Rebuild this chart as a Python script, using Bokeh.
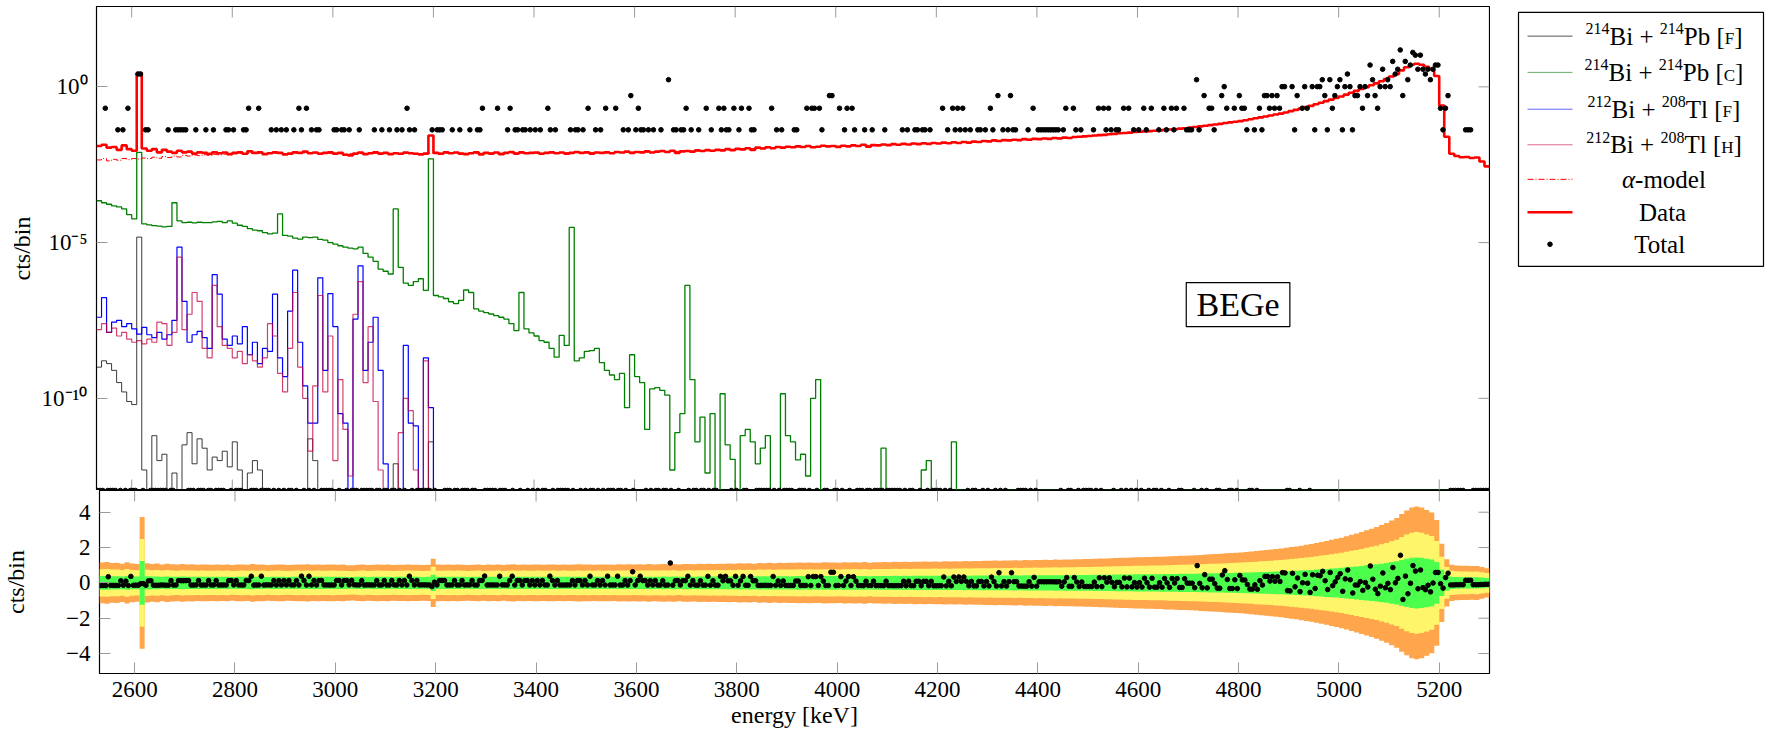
import math
import numpy as np
from bokeh.plotting import figure
from bokeh.layouts import column, row
from bokeh.models import Range1d, FixedTicker
from bokeh.core.properties import value
from bokeh.embed import file_html
from bokeh.resources import INLINE

# ------------------------------------------------------------------ data
E_MIN, E_MAX = 2530.0, 5300.0
MODEL_BIN_KEV = 10.0      # model histograms
COUNT_BIN_KEV = 5.0       # observed counts ("Total" dots)

# "Data" histogram (red), cts/bin, 10 keV bins from 2530 keV
data_model = [
    0.0126, 0.0138, 0.0112, 0.0117, 0.0095, 0.0132, 0.0100, 0.0089, 2.75, 0.0105,
    0.0089, 0.0100, 0.0079, 0.0095, 0.0083, 0.0076, 0.0089, 0.0079, 0.0083, 0.0072,
    0.0079, 0.0076, 0.0071, 0.0079, 0.0074, 0.0078, 0.0069, 0.0076, 0.0079, 0.0071,
    0.0085, 0.0076, 0.0079, 0.0069, 0.0074, 0.0079, 0.0076, 0.0068, 0.0072, 0.0079,
    0.0076, 0.0083, 0.0074, 0.0078, 0.0071, 0.0076, 0.0079, 0.0072, 0.0076, 0.0066,
    0.0063, 0.0072, 0.0078, 0.0069, 0.0074, 0.0079, 0.0072, 0.0076, 0.0069, 0.0074,
    0.0071, 0.0078, 0.0074, 0.0071, 0.0068, 0.0072, 0.0275, 0.0076, 0.0071, 0.0079,
    0.0074, 0.0078, 0.0072, 0.0069, 0.0074, 0.0079, 0.0068, 0.0076, 0.0072, 0.0078,
    0.0069, 0.0076, 0.0081, 0.0072, 0.0079, 0.0074, 0.0076, 0.0078, 0.0071, 0.0076,
    0.0079, 0.0074, 0.0078, 0.0072, 0.0076, 0.0081, 0.0076, 0.0079, 0.0072, 0.0078,
    0.0076, 0.0079, 0.0074, 0.0081, 0.0078, 0.0083, 0.0076, 0.0081, 0.0079, 0.0085,
    0.0078, 0.0083, 0.0087, 0.0081, 0.0089, 0.0076, 0.0085, 0.0087, 0.0083, 0.0091,
    0.0087, 0.0093, 0.0089, 0.0095, 0.0091, 0.0100, 0.0093, 0.0102, 0.0098, 0.0107,
    0.0095, 0.0112, 0.0105, 0.0115, 0.0107, 0.0117, 0.0112, 0.0120, 0.0115, 0.0123,
    0.0117, 0.0126, 0.0115, 0.0120, 0.0129, 0.0123, 0.0126, 0.0117, 0.0129, 0.0123,
    0.0132, 0.0126, 0.0138, 0.0120, 0.0135, 0.0132, 0.0141, 0.0135, 0.0145, 0.0138,
    0.0148, 0.0141, 0.0151, 0.0145, 0.0155, 0.0148, 0.0158, 0.0151, 0.0162, 0.0155,
    0.0166, 0.0158, 0.0170, 0.0162, 0.0174, 0.0170, 0.0182, 0.0178, 0.0191, 0.0182,
    0.0195, 0.0191, 0.0200, 0.0195, 0.0209, 0.0200, 0.0214, 0.0209, 0.0219, 0.0214,
    0.0229, 0.0219, 0.0234, 0.0229, 0.0245, 0.0251, 0.0257, 0.0263, 0.0275, 0.0282,
    0.0288, 0.0302, 0.0309, 0.0324, 0.0331, 0.0339, 0.0355, 0.0363, 0.0372, 0.0380,
    0.0389, 0.0398, 0.0417, 0.0427, 0.0437, 0.0457, 0.0468, 0.0490, 0.0513, 0.0537,
    0.0562, 0.0589, 0.0617, 0.0646, 0.0692, 0.0724, 0.0759, 0.0794, 0.0851, 0.0912,
    0.0977, 0.105, 0.112, 0.120, 0.129, 0.138, 0.151, 0.166, 0.182, 0.200,
    0.224, 0.245, 0.275, 0.309, 0.347, 0.389, 0.437, 0.490, 0.562, 0.646,
    0.741, 0.851, 0.977, 1.12, 1.29, 1.51, 1.78, 2.14, 2.57, 3.39,
    4.27, 5.13, 5.50, 5.13, 4.37, 3.72, 2.24, 0.251, 0.0251, 0.0071,
    0.0060, 0.0055, 0.0056, 0.0052, 0.0054, 0.0040, 0.0028,
]

# alpha-model (red dash-dot), 10 keV bins from 2530 keV
alpha_model = [
    0.0045, 0.0050, 0.0042, 0.0047, 0.0044, 0.0050, 0.0046, 0.0050, 0.0048, 0.0052,
    0.0050, 0.0055, 0.0051, 0.0058, 0.0054, 0.0060, 0.0056, 0.0063, 0.0060, 0.0065,
    0.0062, 0.0066, 0.0063, 0.0068, 0.0066, 0.0069, 0.0066, 0.0071, 0.0072, 0.0071,
    0.0073, 0.0074, 0.0072, 0.0073, 0.0074, 0.0073, 0.0074, 0.0072, 0.0073, 0.0074,
    0.0074, 0.0075, 0.0074, 0.0073, 0.0074, 0.0075, 0.0074, 0.0073, 0.0072, 0.0071,
    0.0071, 0.0072, 0.0073, 0.0073, 0.0074, 0.0074, 0.0073, 0.0073, 0.0072, 0.0073,
    0.0073, 0.0074, 0.0074, 0.0073, 0.0072, 0.0073, 0.0074, 0.0074, 0.0074, 0.0075,
    0.0075, 0.0074, 0.0074, 0.0074, 0.0075, 0.0074, 0.0074, 0.0074, 0.0075, 0.0075,
    0.0074, 0.0075, 0.0075, 0.0075, 0.0075, 0.0075, 0.0075, 0.0075, 0.0075, 0.0076,
    0.0076, 0.0076, 0.0076, 0.0076, 0.0076, 0.0077, 0.0077, 0.0077, 0.0077, 0.0077,
    0.0077, 0.0078, 0.0078, 0.0079, 0.0079, 0.0080, 0.0080, 0.0080, 0.0081, 0.0081,
    0.0082, 0.0082, 0.0083, 0.0084, 0.0084, 0.0085, 0.0085, 0.0086, 0.0087, 0.0088,
    0.0089, 0.0090, 0.0091, 0.0092, 0.0093, 0.0095, 0.0096, 0.0098, 0.0100, 0.0102,
    0.0104, 0.0106, 0.0108, 0.0110, 0.0111, 0.0113, 0.0114, 0.0116, 0.0117, 0.0118,
    0.0119, 0.0120, 0.0121, 0.0122, 0.0123, 0.0124, 0.0124, 0.0125, 0.0126, 0.0127,
    0.0128, 0.0129, 0.0131, 0.0132, 0.0133, 0.0134, 0.0136, 0.0137, 0.0139, 0.0141,
    0.0142, 0.0144, 0.0146, 0.0147, 0.0149, 0.0151, 0.0153, 0.0155, 0.0157, 0.0159,
    0.0161, 0.0163, 0.0165, 0.0168, 0.0170, 0.0173, 0.0176, 0.0179, 0.0182, 0.0185,
    0.0188, 0.0191, 0.0195, 0.0198, 0.0201, 0.0205, 0.0208, 0.0211, 0.0215, 0.0219,
    0.0223, 0.0227, 0.0231, 0.0236, 0.0241, 0.0247, 0.0253, 0.0260, 0.0267, 0.0276,
    0.0288, 0.0302, 0.0309, 0.0324, 0.0331, 0.0339, 0.0355, 0.0363, 0.0372, 0.0380,
    0.0389, 0.0398, 0.0417, 0.0427, 0.0437, 0.0457, 0.0468, 0.0490, 0.0513, 0.0537,
    0.0562, 0.0589, 0.0617, 0.0646, 0.0692, 0.0724, 0.0759, 0.0794, 0.0851, 0.0912,
    0.0977, 0.105, 0.112, 0.120, 0.129, 0.138, 0.151, 0.166, 0.182, 0.200,
    0.224, 0.245, 0.275, 0.309, 0.347, 0.389, 0.437, 0.490, 0.562, 0.646,
    0.741, 0.851, 0.977, 1.12, 1.29, 1.51, 1.78, 2.14, 2.57, 3.39,
    4.27, 5.13, 5.50, 5.13, 4.37, 3.72, 2.24, 0.251, 0.0251, 0.0071,
    0.0060, 0.0055, 0.0056, 0.0052, 0.0054, 0.0040, 0.0028,
]

# 214Bi + 214Pb [C] (green), 10 keV bins from 2530 keV; zero beyond 4240 keV
bi214_pb214_c = [
    2.2e-4, 1.9e-4, 1.7e-4, 1.5e-4, 1.4e-4, 1.2e-4, 7.9e-5, 5.8e-5, 7.9e-3, 4.0e-5,
    3.7e-5, 3.5e-5, 3.4e-5, 3.2e-5, 3.3e-5, 1.9e-4, 5.0e-5, 4.4e-5, 4.5e-5, 4.3e-5,
    4.5e-5, 4.4e-5, 4.4e-5, 4.6e-5, 4.8e-5, 4.4e-5, 5.0e-5, 4.2e-5, 3.6e-5, 3.3e-5,
    2.8e-5, 2.5e-5, 2.4e-5, 2.1e-5, 1.9e-5, 2.0e-5, 8.3e-5, 1.7e-5, 1.6e-5, 1.4e-5,
    1.3e-5, 1.5e-5, 1.45e-5, 1.5e-5, 1.26e-5, 1.2e-5, 1.0e-5, 8.9e-6, 7.9e-6, 7.1e-6,
    6.6e-6, 6.3e-6, 7.1e-6, 4.5e-6, 3.4e-6, 2.5e-6, 1.4e-6, 1.2e-6, 9.8e-7, 1.2e-4,
    1.6e-6, 5.0e-7, 4.2e-7, 5.6e-7, 6.9e-7, 2.9e-7, 4.9e-3, 2.0e-7, 1.8e-7, 1.6e-7,
    1.26e-7, 1.1e-7, 1.4e-7, 3.0e-7, 2.5e-7, 7.4e-8, 6.3e-8, 5.6e-8, 5.1e-8, 4.5e-8,
    4.0e-8, 3.5e-8, 2.5e-8, 1.5e-8, 2.5e-7, 1.7e-8, 1.26e-8, 1.0e-8, 7.1e-9, 6.3e-9,
    4.0e-9, 2.1e-9, 1.05e-8, 5.0e-9, 3.1e-5, 1.6e-9, 2.0e-9, 3.2e-9, 3.4e-9, 4.0e-9,
    1.4e-9, 7.9e-10, 5.6e-10, 4.0e-10, 6.3e-10, 5.0e-11, 2.5e-9, 5.0e-10, 3.2e-10, 1.0e-11,
    2.0e-10, 2.2e-10, 1.8e-10, 1.26e-10, 5.0e-13, 7.9e-12, 3.2e-11, 4.2e-7, 4.0e-10, 4.0e-12,
    2.5e-11, 4.0e-13, 3.2e-11, 0, 1.4e-10, 3.2e-12, 1.1e-12, 0, 6.3e-12, 1.0e-11,
    4.0e-12, 7.9e-13, 2.5e-12, 6.3e-12, 0, 0, 1.4e-10, 6.3e-12, 4.0e-12, 1.05e-12,
    1.6e-12, 3.2e-13, 1.0e-10, 4.0e-10, 0, 0, 0, 0, 0, 0,
    0, 0, 0, 0, 0, 0, 2.5e-12, 0, 0, 0,
    0, 0, 0, 0, 5.0e-13, 1.0e-12, 0, 0, 0, 0,
    4.0e-12,
]

# 212Bi + 208Tl [F] (blue), 10 keV bins from 2530 keV; zero beyond 3200 keV
bi212_tl208_f = [
    4.0e-8, 1.7e-7, 1.3e-8, 2.8e-8, 3.2e-8, 2.0e-8, 2.5e-8, 1.7e-8, 1.15e-8, 1.9e-8,
    1.1e-8, 8.9e-9, 1.3e-8, 7.9e-9, 1.1e-8, 3.2e-8, 7.1e-6, 1.3e-7, 6.3e-9, 1.1e-8,
    1.4e-8, 8.9e-9, 4.0e-9, 9.3e-7, 2.2e-7, 7.9e-9, 5.0e-9, 1.0e-8, 5.6e-9, 2.0e-8,
    2.5e-9, 6.3e-9, 1.3e-9, 4.0e-9, 3.2e-9, 2.2e-7, 2.0e-9, 5.0e-10, 6.3e-8, 1.3e-6,
    6.3e-9, 2.5e-10, 1.6e-11, 1.6e-11, 7.4e-7, 7.9e-10, 2.3e-7, 2.0e-8, 3.2e-11, 1.6e-11,
    0, 3.5e-8, 1.8e-6, 7.9e-10, 6.3e-9, 4.0e-8, 7.9e-10, 7.9e-13, 0, 0,
    0, 5.0e-9, 1.6e-11, 1.3e-11, 0, 2.0e-9, 5.0e-11,
]

# 212Bi + 208Tl [H] (crimson), 10 keV bins from 2530 keV; zero beyond 3200 keV
bi212_tl208_h = [
    1.6e-8, 2.5e-8, 1.3e-8, 1.8e-8, 1.0e-8, 1.3e-8, 7.9e-9, 6.3e-9, 7.1e-9, 5.6e-9,
    7.9e-9, 6.3e-9, 2.8e-8, 2.5e-8, 5.0e-9, 1.3e-8, 3.4e-6, 1.6e-8, 5.0e-8, 2.5e-7,
    1.3e-7, 4.0e-9, 2.0e-9, 4.2e-7, 2.0e-8, 5.0e-9, 4.0e-9, 2.0e-9, 3.2e-9, 1.3e-9,
    2.5e-9, 1.6e-9, 1.0e-9, 2.0e-9, 2.5e-8, 1.0e-8, 6.3e-10, 1.6e-10, 4.0e-9, 2.5e-7,
    1.0e-9, 1.0e-10, 2.0e-12, 2.5e-10, 2.0e-7, 1.6e-10, 1.0e-8, 1.0e-12, 4.0e-10, 1.0e-11,
    3.2e-13, 5.0e-8, 5.6e-7, 3.2e-10, 2.0e-8, 7.9e-11, 5.0e-13, 0, 0, 0,
    7.9e-12, 1.0e-10, 4.0e-11, 5.0e-13, 0, 1.6e-9, 0,
]

# 214Bi + 214Pb [F] (black), 10 keV bins from 2530 keV; zero beyond 3200 keV
bi214_pb214_f = [
    1.0e-9, 1.6e-9, 1.3e-9, 7.9e-10, 3.2e-10, 1.6e-10, 7.9e-11, 6.3e-11, 1.5e-5, 5.0e-13,
    0, 6.3e-12, 1.0e-12, 1.6e-12, 0, 4.0e-13, 0, 3.2e-12, 7.9e-12, 7.9e-13,
    5.0e-12, 2.5e-12, 5.0e-13, 1.3e-12, 1.0e-12, 2.0e-12, 6.3e-13, 4.0e-12, 5.0e-13, 0,
    4.0e-13, 1.0e-12, 5.0e-13, 0, 0, 0, 0, 0, 0, 0,
    0, 0, 5.0e-12, 1.0e-12, 0, 0, 0, 0, 0, 0,
    0, 0, 0, 0, 0, 0, 0, 0, 0, 7.9e-13,
    0, 0, 0, 0, 0, 0, 4.0e-12,
]

# Total: observed counts per 5 keV bin from 2530 keV (one row = 100 keV)
total_counts = [
    0, 0, 0, 2, 0, 0, 0, 0, 1, 0, 1, 0, 2, 0, 0, 0, 6, 6, 0, 1,
    1, 0, 0, 0, 0, 0, 0, 0, 1, 0, 0, 1, 1, 1, 1, 1, 0, 0, 0, 1,
    0, 0, 0, 1, 0, 0, 1, 0, 0, 0, 0, 1, 1, 0, 1, 0, 0, 0, 1, 1,
    2, 0, 0, 0, 2, 0, 0, 0, 0, 1, 0, 1, 0, 1, 0, 1, 0, 0, 1, 0,
    2, 1, 0, 2, 0, 1, 0, 1, 1, 0, 0, 0, 0, 0, 1, 1, 0, 1, 1, 0,
    1, 0, 0, 0, 1, 0, 0, 0, 0, 0, 1, 0, 0, 1, 0, 0, 1, 0, 0, 1,
    0, 1, 0, 2, 1, 0, 1, 0, 0, 0, 0, 0, 0, 1, 0, 1, 1, 1, 0, 0,
    0, 1, 0, 0, 1, 0, 0, 0, 1, 0, 0, 1, 1, 2, 0, 0, 0, 0, 0, 2,
    0, 0, 0, 1, 2, 0, 1, 1, 0, 1, 1, 0, 1, 0, 1, 0, 1, 0, 0, 2,
    1, 0, 1, 0, 0, 0, 0, 0, 1, 0, 1, 1, 0, 1, 0, 2, 0, 0, 1, 0,
    1, 0, 2, 0, 0, 0, 2, 0, 0, 1, 0, 1, 3, 0, 1, 2, 1, 1, 0, 1,
    0, 1, 0, 0, 1, 0, 0, 5, 0, 1, 1, 0, 1, 1, 2, 0, 1, 0, 0, 1,
    0, 0, 2, 0, 1, 0, 0, 2, 1, 2, 1, 1, 0, 2, 0, 1, 2, 0, 0, 2,
    1, 1, 0, 0, 0, 0, 0, 0, 2, 0, 1, 0, 1, 0, 0, 0, 0, 1, 1, 0,
    0, 0, 2, 0, 2, 2, 0, 2, 1, 0, 0, 3, 3, 0, 0, 2, 0, 1, 2, 0,
    2, 1, 0, 0, 0, 1, 0, 0, 1, 0, 0, 0, 0, 1, 0, 0, 0, 0, 0, 0,
    1, 0, 1, 0, 0, 1, 1, 0, 1, 1, 0, 1, 0, 0, 0, 0, 2, 0, 1, 0,
    2, 1, 2, 1, 2, 1, 0, 1, 0, 0, 1, 1, 0, 1, 0, 2, 1, 0, 3, 0,
    1, 0, 1, 3, 1, 1, 0, 0, 0, 0, 1, 0, 2, 0, 1, 1, 1, 1, 1, 1,
    1, 1, 1, 0, 1, 2, 0, 0, 2, 1, 0, 1, 0, 0, 0, 0, 1, 0, 2, 0,
    2, 1, 2, 1, 0, 1, 1, 0, 2, 0, 2, 0, 1, 0, 1, 0, 2, 1, 0, 2,
    0, 0, 1, 0, 2, 1, 0, 2, 1, 2, 0, 0, 2, 1, 1, 1, 0, 5, 1, 0,
    3, 0, 2, 2, 1, 0, 0, 3, 4, 2, 0, 0, 2, 0, 3, 2, 2, 1, 0, 0,
    1, 0, 2, 1, 3, 3, 2, 3, 2, 3, 2, 4, 4, 0, 0, 4, 1, 3, 0, 2,
    4, 2, 0, 4, 1, 4, 4, 5, 3, 1, 5, 2, 3, 4, 5, 1, 4, 6, 4, 1,
    3, 3, 4, 2, 4, 3, 8, 5, 3, 2, 4, 7, 4, 5, 4, 9, 6, 7, 13, 3,
    9, 5, 8, 12, 11, 7, 11, 7, 6, 7, 5, 7, 8, 8, 2, 1, 2, 3, 0, 0,
    0, 0, 0, 0, 1, 1, 1, 0, 0, 0, 0, 0, 0, 0,
]

x_ticks = [2600, 2800, 3000, 3200, 3400, 3600, 3800, 4000, 4200, 4400, 4600, 4800, 5000, 5200]
y_top_ticks = [1e-10, 1e-5, 1.0]
y_top_tick_labels = ["10⁻¹⁰", "10⁻⁵", "10⁰"]
y_bot_ticks = [-4, -2, 0, 2, 4]
y_bot_tick_labels = ["−4", "−2", "0", "2", "4"]

# legend entries: (superscript A, element A, superscript B, element B, small-caps tag)
legend_isotopes = [
    ("214", "Bi", "214", "Pb", "F"),
    ("214", "Bi", "214", "Pb", "C"),
    ("212", "Bi", "208", "Tl", "F"),
    ("212", "Bi", "208", "Tl", "H"),
]
legend_plain = ["model", "Data", "Total"]

# ------------------------------------------------------------------ display settings
FONT = "Liberation Serif"
Y_MIN, Y_MAX = 10 ** -12.96, 10 ** 2.58
R_MIN, R_MAX = -5.13, 5.23
COUNT_LEVEL = 0.0417      # plotted height of a single count in the upper panel
RES_SCALE = 0.25          # residual scale of the lower panel
RED, GREEN, BLUE, CRIMSON, BLACK = "#ff0000", "#008000", "#0000ff", "#c4003c", "#1a1a1a"
ORANGE, YELLOW, LIME = "#ffa64d", "#fff56b", "#4dff4d"
TICK_GREY = "#9a9a9a"
TICK_PX = 11
FRAME_W, TOP_H, BOT_H = 1393, 484, 183

N_MODEL = int(round((E_MAX - E_MIN) / MODEL_BIN_KEV))
N_COUNT = int(round((E_MAX - E_MIN) / COUNT_BIN_KEV))
KEV_PER_PX = (E_MAX - E_MIN) / FRAME_W
DEC_PER_PX = (math.log10(Y_MAX) - math.log10(Y_MIN)) / TOP_H
RES_PER_PX = (R_MAX - R_MIN) / BOT_H

# Times-compatible advance widths (em) used to centre composed legend labels
ADV = {"0": .5, "1": .5, "2": .5, "3": .5, "4": .5, "5": .5, "6": .5, "7": .5, "8": .5,
       "9": .5, "B": .667, "i": .278, " ": .25, "+": .564, "P": .556, "b": .5,
       "T": .611, "l": .278, "[": .333, "]": .333, "F": .556, "C": .667, "H": .722,
       "-": .333, "m": .778, "o": .5, "d": .5, "e": .444, "α": .52}


def text_w(s, size):
    return sum(ADV.get(c, .5) for c in s) * size


def full(vals, n):
    return list(vals) + [0.0] * (n - len(vals))


def step_xy(vals, width):
    v = np.asarray(vals, dtype=float)
    edges = E_MIN + width * np.arange(len(v) + 1)
    y = np.append(v, v[-1])
    y = np.where(y > 0, y, Y_MIN)
    return edges, y


def style_axis(ax):
    ax.axis_line_color = None
    ax.major_tick_in = TICK_PX
    ax.major_tick_out = 0
    ax.major_tick_line_color = TICK_GREY
    ax.minor_tick_line_color = None
    ax.major_label_text_font = FONT
    ax.major_label_text_font_size = "23px"
    ax.major_label_text_color = "black"
    ax.axis_label_text_font = FONT
    ax.axis_label_text_font_size = "24px"
    ax.axis_label_text_font_style = "normal"
    ax.axis_label_text_color = "black"


# ------------------------------------------------------------------ upper panel
x_range = Range1d(E_MIN, E_MAX)
p_top = figure(width=1490, height=490, x_range=x_range, y_range=Range1d(Y_MIN, Y_MAX),
               y_axis_type="log", x_axis_location=None, output_backend="svg",
               toolbar_location=None, min_border_left=96, min_border_right=1,
               min_border_top=6, min_border_bottom=0)
p_top.grid.visible = False
p_top.outline_line_color = "black"
p_top.outline_line_width = 1.2

ly = p_top.yaxis[0]
style_axis(ly)
ly.ticker = FixedTicker(ticks=y_top_ticks)
ly.major_label_overrides = dict(zip(y_top_ticks, y_top_tick_labels))
ly.major_label_standoff = 9
ly.axis_label = "cts/bin"
ly.axis_label_standoff = 4

# inward ticks on the remaining three sides of the upper frame
t_dec = 10 ** (TICK_PX * DEC_PER_PX)
n_x = len(x_ticks)
p_top.segment(x0=x_ticks, y0=[Y_MAX] * n_x, x1=x_ticks, y1=[Y_MAX / t_dec] * n_x,
              line_color=TICK_GREY, line_width=1)
p_top.segment(x0=x_ticks, y0=[Y_MIN] * n_x, x1=x_ticks, y1=[Y_MIN * t_dec] * n_x,
              line_color=TICK_GREY, line_width=1)
p_top.segment(x0=[E_MAX] * 3, y0=y_top_ticks, x1=[E_MAX - TICK_PX * KEV_PER_PX] * 3,
              y1=y_top_ticks, line_color=TICK_GREY, line_width=1)

for vals, color, width, alpha in [
    (bi214_pb214_f, BLACK, 1.0, 0.85),
    (bi214_pb214_c, GREEN, 1.3, 1.0),
    (bi212_tl208_f, BLUE, 1.2, 1.0),
    (bi212_tl208_h, CRIMSON, 1.2, 0.75),
]:
    xs, ys = step_xy(full(vals, N_MODEL), MODEL_BIN_KEV)
    p_top.step(xs, ys, mode="after", line_color=color, line_width=width, line_alpha=alpha)

xs, ys = step_xy(alpha_model, MODEL_BIN_KEV)
p_top.step(xs, ys, mode="after", line_color=RED, line_width=1.0, line_dash="6 2 1 2")
xs, ys = step_xy(data_model, MODEL_BIN_KEV)
p_top.step(xs, ys, mode="after", line_color=RED, line_width=2.6)

counts = np.asarray(total_counts, dtype=float)
count_centres = E_MIN + COUNT_BIN_KEV * (np.arange(N_COUNT) + 0.5)
count_levels = np.where(counts > 0,
                        COUNT_LEVEL * np.power(np.maximum(counts, 1), math.log(10)), Y_MIN)
p_top.scatter(count_centres, count_levels, size=4.6, color="black", marker="circle")

# "BEGe" tag
p_top.quad(left=[4697], right=[4903], bottom=[2.0e-8], top=[5.2e-7],
           fill_color="white", line_color="black", line_width=1.2)
p_top.text(x=[4800], y=[1.0e-7], text=["BEGe"], text_align="center",
           text_baseline="middle", text_font=value(FONT), text_font_size="34px",
           text_color="black")

# ------------------------------------------------------------------ legend
LEG_H = 490
p_leg = figure(width=277, height=LEG_H, x_range=Range1d(0, 277), y_range=Range1d(0, LEG_H),
               x_axis_location=None, y_axis_location=None, output_backend="svg",
               toolbar_location=None, min_border=0, outline_line_color=None)
p_leg.grid.visible = False
p_leg.quad(left=[28], right=[273], top=[LEG_H - 6], bottom=[LEG_H - 263],
           fill_color="white", line_color="black", line_width=1.2)
row_y = [LEG_H - v for v in [30, 66.7, 104, 140, 175, 208.3, 240.7]]
sample_x = [37, 82]
LABEL_CX = 173.5
MAIN, SUP, SC = 25, 16, 17
SUP_RISE = 7.5        # superscript centre above the row centre
SC_DROP = 2.7         # small-caps centre below the row centre (shared baseline)

p_leg.line(sample_x, [row_y[0]] * 2, line_color=BLACK, line_width=1.0, line_alpha=0.75)
p_leg.line(sample_x, [row_y[1]] * 2, line_color=GREEN, line_width=1.0, line_alpha=0.6)
p_leg.line(sample_x, [row_y[2]] * 2, line_color=BLUE, line_width=1.0, line_alpha=0.6)
p_leg.line(sample_x, [row_y[3]] * 2, line_color=CRIMSON, line_width=1.0, line_alpha=0.6)
p_leg.line(sample_x, [row_y[4]] * 2, line_color=RED, line_width=1.0, line_dash="6 2 1 2")
p_leg.line(sample_x, [row_y[5]] * 2, line_color=RED, line_width=2.6)
p_leg.scatter([59.5], [row_y[6]], size=4.6, color="black", marker="circle")

pieces = {"x": [], "y": [], "text": [], "size": [], "style": []}


def add_piece(x, y, s, size, style="normal"):
    pieces["x"].append(x)
    pieces["y"].append(y)
    pieces["text"].append(s)
    pieces["size"].append(f"{size}px")
    pieces["style"].append(style)


for (supa, ela, supb, elb, tag), yc in zip(legend_isotopes, row_y[:4]):
    parts = [(supa, SUP, SUP_RISE), (ela + " + ", MAIN, 0), (supb, SUP, SUP_RISE),
             (elb + " [", MAIN, 0), (tag, SC, -SC_DROP), ("]", MAIN, 0)]
    total = sum(text_w(s, sz) for s, sz, _ in parts)
    x = LABEL_CX - total / 2
    for s, sz, dy in parts:
        add_piece(x, yc + dy, s, sz)
        x += text_w(s, sz)

# alpha-model: italic alpha followed by "-model"
parts = [("α", "italic"), ("-" + legend_plain[0], "normal")]
total = sum(text_w(s, MAIN) for s, _ in parts)
x = LABEL_CX - total / 2
for s, st in parts:
    add_piece(x, row_y[4], s, MAIN, st)
    x += text_w(s, MAIN)
for s, yc in zip(legend_plain[1:], row_y[5:]):
    add_piece(LABEL_CX - text_w(s, MAIN) / 2, yc, s, MAIN)

p_leg.text(x="x", y="y", text="text", text_font_size="size", text_font_style="style",
           source=pieces, text_align="left", text_baseline="middle",
           text_font=value(FONT), text_color="black")

# ------------------------------------------------------------------ lower panel (residuals)
p_bot = figure(width=1767, height=250, x_range=x_range, y_range=Range1d(R_MIN, R_MAX),
               output_backend="svg", toolbar_location=None,
               min_border_left=96, min_border_right=278, min_border_top=0, min_border_bottom=67)
p_bot.grid.visible = False
p_bot.outline_line_color = "black"
p_bot.outline_line_width = 1.2

n_y = len(y_bot_ticks)
p_bot.segment(x0=x_ticks, y0=[R_MAX] * n_x, x1=x_ticks, y1=[R_MAX - TICK_PX * RES_PER_PX] * n_x,
              line_color=TICK_GREY, line_width=1)
p_bot.segment(x0=[E_MAX] * n_y, y0=y_bot_ticks, x1=[E_MAX - TICK_PX * KEV_PER_PX] * n_y,
              y1=y_bot_ticks, line_color=TICK_GREY, line_width=1)

model = np.asarray(data_model, dtype=float)
mu = np.exp(np.log10(model / COUNT_LEVEL))          # expected counts per bin
sigma = 0.5 * np.sqrt(mu)
edges = E_MIN + MODEL_BIN_KEV * np.arange(N_MODEL + 1)
band_x = np.repeat(edges, 2)[1:-1]
band_s = np.repeat(sigma, 2)
for k, color in [(3, ORANGE), (2, YELLOW), (1, LIME)]:
    p_bot.varea(x=band_x, y1=-k * band_s, y2=k * band_s, fill_color=color)

mu_count_bins = np.repeat(mu, 2)[:N_COUNT]
residuals = RES_SCALE * (counts - mu_count_bins)
p_bot.scatter(count_centres, residuals, size=4.6, color="black", marker="circle")

bx = p_bot.xaxis[0]
style_axis(bx)
bx.ticker = FixedTicker(ticks=x_ticks)
bx.major_label_standoff = 8
bx.axis_label = "energy [keV]"
bx.axis_label_standoff = 2

by = p_bot.yaxis[0]
style_axis(by)
by.ticker = FixedTicker(ticks=y_bot_ticks)
by.major_label_overrides = dict(zip(y_bot_ticks, y_bot_tick_labels))
by.major_label_standoff = 9
by.axis_label = "cts/bin"
by.axis_label_standoff = 34

layout = column(row(p_top, p_leg, spacing=0), p_bot, spacing=0)
open("out.html", "w").write(file_html(layout, INLINE, title="BEGe spectrum"))
